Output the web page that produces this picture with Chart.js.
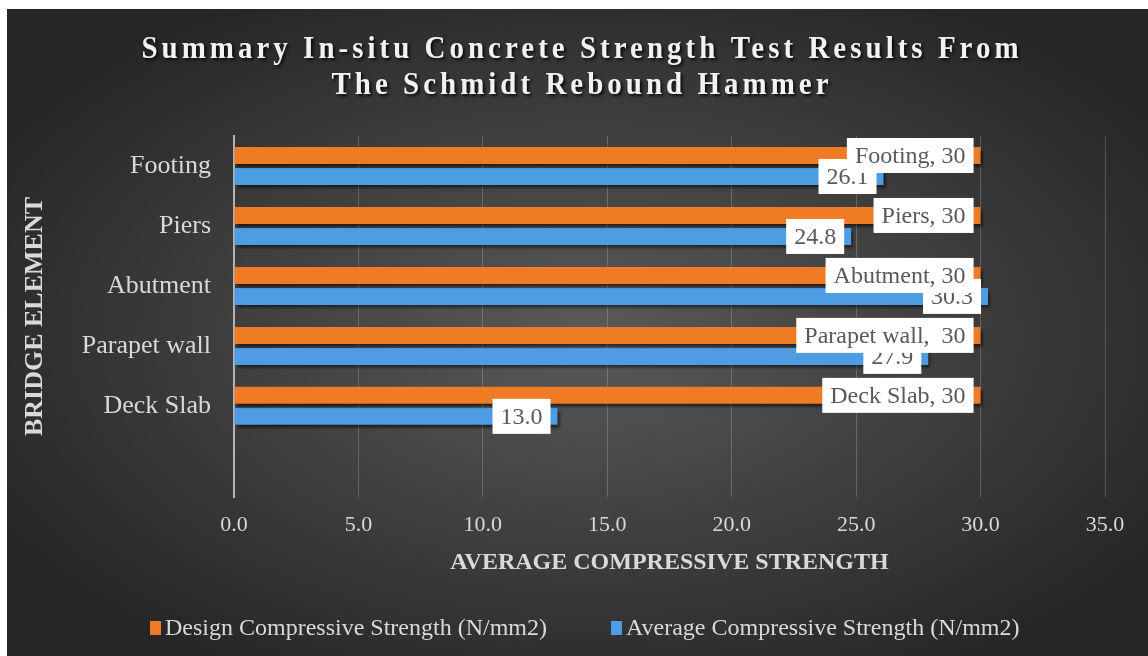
<!DOCTYPE html>
<html><head><meta charset="utf-8">
<script src="https://cdn.jsdelivr.net/npm/chart.js@4/dist/chart.umd.min.js"></script>
<style>html,body{margin:0;padding:0;background:#fff;overflow:hidden}#wrap{width:1148px;height:656px;position:relative}</style>
</head><body><div id="wrap"><canvas id="c" width="1148" height="656"></canvas></div>
<script>
const categories = ['Footing', 'Piers', 'Abutment', 'Parapet wall', 'Deck Slab'];
const designStrength = [30, 30, 30, 30, 30];
const averageStrength = [26.1, 24.8, 30.3, 27.9, 13.0];
const designLabelText = ['Footing, 30', 'Piers, 30', 'Abutment, 30', 'Parapet wall,  30', 'Deck Slab, 30'];
const xTickValues = [0, 5, 10, 15, 20, 25, 30, 35];
const seriesNames = ['Design Compressive Strength (N/mm2)', 'Average Compressive Strength (N/mm2)'];
const titleLines = ['Summary In-situ Concrete Strength Test Results From', 'The Schmidt Rebound Hammer'];
const xAxisTitle = 'AVERAGE COMPRESSIVE STRENGTH';
const yAxisTitle = 'BRIDGE ELEMENT';

const ORANGE = '#f07b25', BLUE = '#4e9de3';
const SERIF = '"Liberation Serif", "Times New Roman", serif';

const bgPlugin = {
  id: 'bg',
  beforeDraw(chart) {
    const ctx = chart.ctx;
    ctx.save();
    ctx.fillStyle = '#fff';
    ctx.fillRect(0, 0, 1148, 656);
    ctx.beginPath();
    ctx.rect(7, 9, 1141, 647);
    ctx.clip();
    ctx.translate(590, 335);
    ctx.scale(1.75, 1);
    const g = ctx.createRadialGradient(0, 0, 0, 0, 0, 390);
    g.addColorStop(0, '#5a5a5a');
    g.addColorStop(1, '#262626');
    ctx.fillStyle = g;
    ctx.fillRect(-400, -400, 800, 800);
    ctx.restore();
    // title
    ctx.save();
    ctx.font = 'bold 29px ' + SERIF;
    ctx.letterSpacing = '4px';
    ctx.textAlign = 'center';
    ctx.textBaseline = 'middle';
    ctx.fillStyle = '#f2f2f2';
    ctx.shadowColor = 'rgba(0,0,0,0.8)';
    ctx.shadowBlur = 3;
    ctx.shadowOffsetX = 2;
    ctx.shadowOffsetY = 2;
    titleLines.forEach((t, i) => {
      ctx.save();
      ctx.translate(582, 50 + i * 36);
      ctx.scale(1, 1.1);
      ctx.fillText(t, 0, 0);
      ctx.restore();
    });
    ctx.restore();
  },
  afterDraw(chart) {
    const ctx = chart.ctx;
    ctx.save();
    ctx.font = '24px ' + SERIF;
    ctx.textBaseline = 'middle';
    ctx.textAlign = 'left';
    const colors = [ORANGE, BLUE];
    const starts = [150, 611];
    seriesNames.forEach((n, i) => {
      ctx.fillStyle = colors[i];
      ctx.fillRect(starts[i], 621, 11, 14);
      ctx.fillStyle = '#d9d9d9';
      ctx.fillText(n, starts[i] + 15, 629);
    });
    ctx.restore();
  }
};

const shadowPlugin = {
  id: 'barShadow',
  beforeDatasetDraw(chart) {
    const ctx = chart.ctx;
    ctx.save();
    ctx.shadowColor = 'rgba(0,0,0,0.6)';
    ctx.shadowBlur = 3;
    ctx.shadowOffsetX = 2;
    ctx.shadowOffsetY = 3;
  },
  afterDatasetDraw(chart) { chart.ctx.restore(); }
};

const labelPlugin = {
  id: 'valueLabels',
  afterDatasetsDraw(chart) {
    const ctx = chart.ctx;
    ctx.save();
    ctx.font = '24px ' + SERIF;
    ctx.textAlign = 'center';
    ctx.textBaseline = 'middle';
    [1, 0].forEach(di => {
      const meta = chart.getDatasetMeta(di);
      meta.data.forEach((el, i) => {
        const text = di === 0 ? designLabelText[i] : averageStrength[i].toFixed(1);
        const w = ctx.measureText(text).width;
        const bw = w + 16, bh = 35;
        const right = el.x - 7;
        const left = right - bw;
        const top = el.y - bh / 2;
        ctx.fillStyle = '#ffffff';
        ctx.fillRect(left, top, bw, bh);
        ctx.fillStyle = '#595959';
        ctx.fillText(text, left + bw / 2, el.y + 1);
      });
    });
    ctx.restore();
  }
};

new Chart(document.getElementById('c'), {
  type: 'bar',
  data: {
    datasets: [
      { label: seriesNames[0], data: designStrength.map((v, i) => ({ x: v, y: i })), backgroundColor: ORANGE },
      { label: seriesNames[1], data: averageStrength.map((v, i) => ({ x: v, y: i })), backgroundColor: BLUE }
    ]
  },
  options: {
    indexAxis: 'y',
    responsive: false,
    animation: false,
    devicePixelRatio: 1,
    categoryPercentage: 0.7,
    barPercentage: 0.81,
    layout: { padding: { top: 136, right: 43, bottom: 0, left: 7 } },
    plugins: { legend: { display: false }, title: { display: false }, tooltip: { enabled: false } },
    scales: {
      x: {
        type: 'linear', min: 0, max: 35, offset: false,
        afterBuildTicks: s => { s.ticks = xTickValues.map(v => ({ value: v })); },
        afterFit: s => { s.height = 159; },
        ticks: { callback: v => Number(v).toFixed(1), color: '#d9d9d9', font: { family: SERIF, size: 22 }, padding: 15, maxRotation: 0 },
        grid: { color: 'rgba(217,217,217,0.25)', lineWidth: 1, drawTicks: false },
        border: { display: false },
        title: { display: true, text: xAxisTitle, color: '#d9d9d9', font: { family: SERIF, size: 24, weight: 'bold' }, padding: { top: 0, bottom: 79 } }
      },
      y: {
        type: 'linear', reverse: true, min: -0.5, max: 5.52, offset: false,
        afterBuildTicks: s => { s.ticks = categories.map((c, i) => ({ value: i })); },
        afterFit: s => { s.width = 227; },
        ticks: { callback: v => categories[v], color: '#d9d9d9', font: { family: SERIF, size: 26 }, padding: 23 },
        grid: { display: false, drawTicks: false, offset: false },
        border: { display: true, color: '#b3b3b3', width: 2 },
        title: { display: true, text: yAxisTitle, color: '#d9d9d9', font: { family: SERIF, size: 26, weight: 'bold' }, padding: { top: 13, bottom: 0 } }
      }
    }
  },
  plugins: [bgPlugin, shadowPlugin, labelPlugin]
});
</script>
</body></html>
